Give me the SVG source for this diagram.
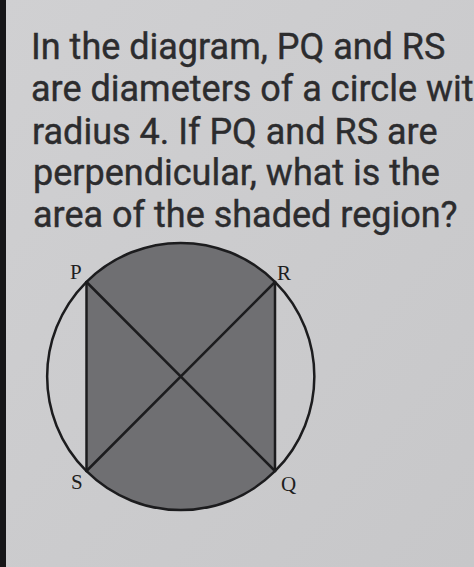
<svg xmlns="http://www.w3.org/2000/svg" width="474" height="567" viewBox="0 0 474 567">
  <defs>
    <linearGradient id="bg" x1="0" y1="0" x2="1" y2="1">
      <stop offset="0" stop-color="#d0d0d2"/>
      <stop offset="1" stop-color="#c7c7c9"/>
    </linearGradient>
  </defs>
  <style>
    .q { font-family: Roboto, "Liberation Sans", sans-serif; font-size: 36px; fill: #2c2c2e; stroke: #2c2c2e; stroke-width: 0.4; }
    .lbl { font-family: "Liberation Serif", serif; font-size: 21px; fill: #1e1e20; }
    .ln { stroke: #1c1c1e; stroke-width: 2.5; fill: none; stroke-linecap: round; }
  </style>
  <rect width="474" height="567" fill="url(#bg)"/>
  <rect x="0" y="0" width="6" height="567" fill="#161618"/>
  <g id="question">
    <text class="q" x="31" y="59">In the diagram, PQ and RS</text>
    <text class="q" x="31" y="101">are diameters of a circle wit</text>
    <text class="q" x="32" y="144">radius 4. If PQ and RS are</text>
    <text class="q" x="33" y="185">perpendicular, what is the</text>
    <text class="q" x="33" y="227">area of the shaded region?</text>
  </g>
  <g id="figure">
    <path id="shaded" d="M86.5 282 A133.6 133.6 0 0 1 275 282 L275 471 A133.6 133.6 0 0 1 86.5 471 Z" fill="#6f6f72"/>
    <circle id="circle" class="ln" cx="180.75" cy="376.5" r="133.6"/>
    <g id="connectors">
      <line class="ln" x1="86.5" y1="282" x2="86.5" y2="471"/>
      <line class="ln" x1="275" y1="282" x2="275" y2="471"/>
      <line class="ln" x1="86.5" y1="282" x2="275" y2="471"/>
      <line class="ln" x1="275" y1="282" x2="86.5" y2="471"/>
    </g>
    <g id="P"><text class="lbl" x="70" y="279">P</text></g>
    <g id="R"><text class="lbl" x="277" y="280">R</text></g>
    <g id="S"><text class="lbl" x="71" y="489">S</text></g>
    <g id="Q"><text class="lbl" x="281" y="491">Q</text></g>
  </g>
</svg>
